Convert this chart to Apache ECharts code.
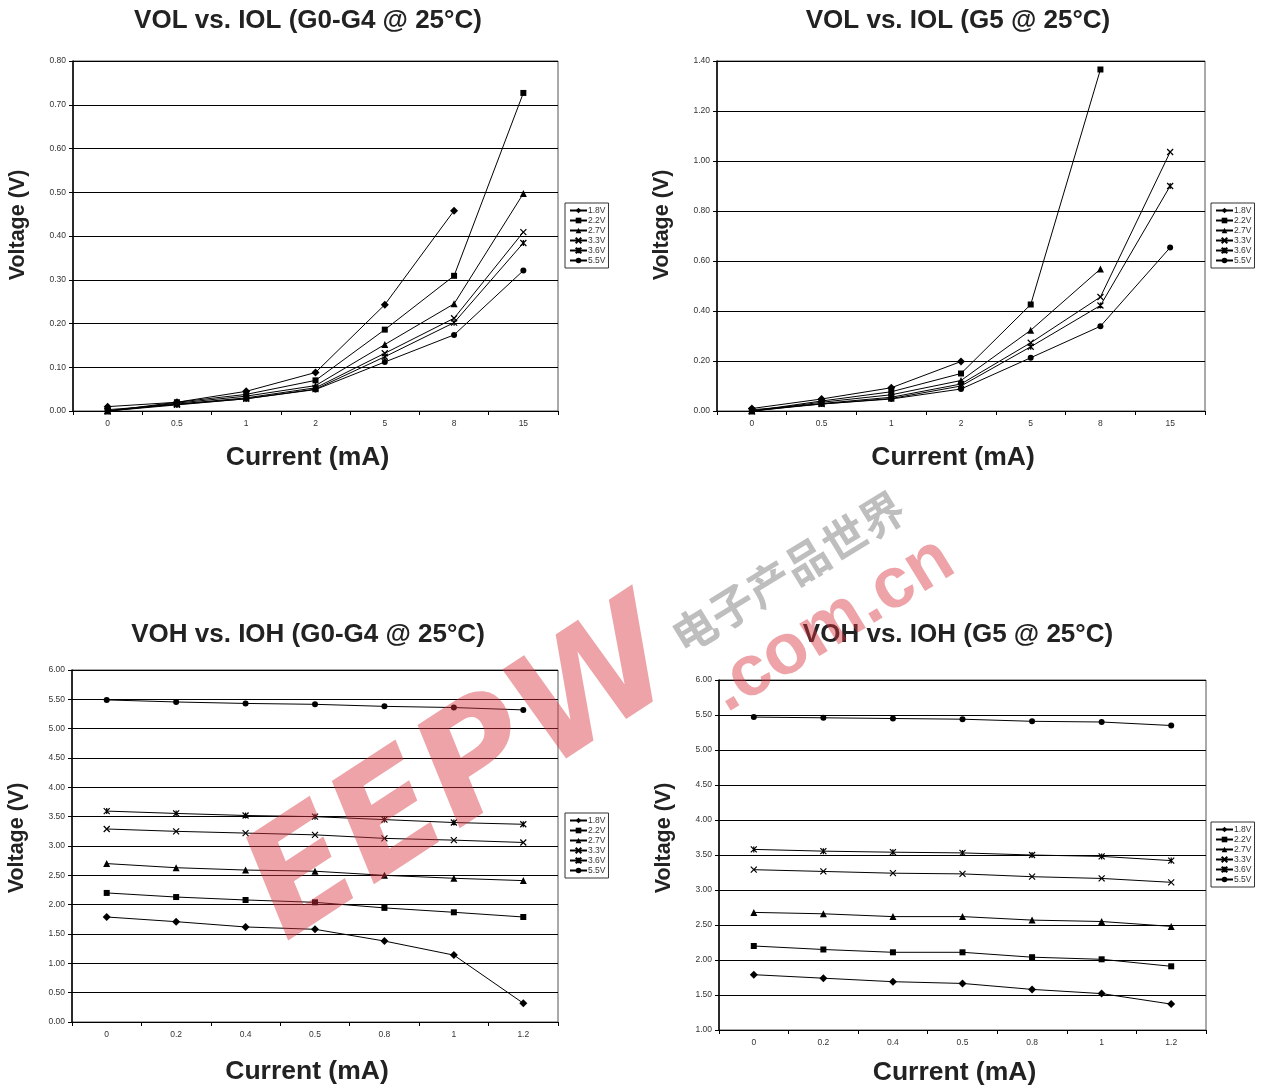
<!DOCTYPE html>
<html>
<head>
<meta charset="utf-8">
<title>VOL / VOH curves</title>
<script src="https://cdn.jsdelivr.net/npm/echarts@6/dist/echarts.min.js"></script>
<style>
  html, body { margin: 0; padding: 0; background: #fff; }
  #chart { width: 1267px; height: 1090px; }
</style>
</head>
<body>
<div id="chart"></div>
<script>
// series names (supply voltage)
const seriesNames = ['1.8V', '2.2V', '2.7V', '3.3V', '3.6V', '5.5V'];

// x categories (current, mA)
const iolLabels = ['0', '0.5', '1', '2', '5', '8', '15'];
const iohLabels = ['0', '0.2', '0.4', '0.5', '0.8', '1', '1.2'];

// VOL vs IOL, G0-G4
const volG04_18 = [0.010, 0.020, 0.045, 0.088, 0.243, 0.458];
const volG04_22 = [0.000, 0.020, 0.038, 0.070, 0.186, 0.309, 0.727];
const volG04_27 = [0.000, 0.018, 0.034, 0.058, 0.152, 0.245, 0.497];
const volG04_33 = [0.000, 0.016, 0.030, 0.053, 0.132, 0.212, 0.409];
const volG04_36 = [0.000, 0.014, 0.028, 0.050, 0.124, 0.202, 0.384];
const volG04_55 = [0.003, 0.015, 0.028, 0.049, 0.112, 0.174, 0.321];

// VOL vs IOL, G5
const volG5_18 = [0.010, 0.048, 0.093, 0.198];
const volG5_22 = [0.000, 0.040, 0.077, 0.150, 0.426, 1.366];
const volG5_27 = [0.000, 0.035, 0.065, 0.122, 0.323, 0.568];
const volG5_33 = [0.000, 0.030, 0.055, 0.108, 0.273, 0.456, 1.036];
const volG5_36 = [0.000, 0.028, 0.050, 0.100, 0.257, 0.422, 0.900];
const volG5_55 = [0.005, 0.028, 0.048, 0.088, 0.213, 0.339, 0.654];

// VOH vs IOH, G0-G4
const vohG04_18 = [1.79, 1.71, 1.62, 1.58, 1.38, 1.14, 0.32];
const vohG04_22 = [2.20, 2.13, 2.08, 2.04, 1.945, 1.87, 1.79];
const vohG04_27 = [2.70, 2.63, 2.59, 2.57, 2.50, 2.45, 2.41];
const vohG04_33 = [3.29, 3.25, 3.22, 3.19, 3.13, 3.10, 3.06];
const vohG04_36 = [3.595, 3.555, 3.52, 3.50, 3.45, 3.40, 3.37];
const vohG04_55 = [5.49, 5.455, 5.43, 5.415, 5.38, 5.36, 5.32];

// VOH vs IOH, G5
const vohG5_18 = [1.79, 1.74, 1.69, 1.665, 1.58, 1.52, 1.37];
const vohG5_22 = [2.20, 2.15, 2.11, 2.11, 2.04, 2.01, 1.91];
const vohG5_27 = [2.68, 2.66, 2.62, 2.62, 2.57, 2.55, 2.48];
const vohG5_33 = [3.29, 3.265, 3.24, 3.23, 3.19, 3.165, 3.11];
const vohG5_36 = [3.58, 3.555, 3.54, 3.53, 3.50, 3.48, 3.42];
const vohG5_55 = [5.47, 5.46, 5.45, 5.44, 5.41, 5.40, 5.35];

// marker for each supply voltage
const markers = [
    { symbol: 'diamond', size: 8, stroke: false },
    { symbol: 'rect', size: 6, stroke: false },
    { symbol: 'triangle', size: 7, stroke: false },
    { symbol: 'path://M0,0L10,10M10,0L0,10', size: 6, stroke: true },
    { symbol: 'path://M0,0L10,10M10,0L0,10M5,0L5,10', size: 6, stroke: true },
    { symbol: 'circle', size: 6, stroke: false }
];

const panels = [
    {
        title: 'VOL vs. IOL (G0-G4 @ 25\u00b0C)', cx: 308, ty: 21, yShift: 11, xGap: 33,
        grid: { left: 73, top: 61, width: 485, height: 350 },
        legend: { left: 565, top: 203 },
        labels: iolLabels, min: 0, max: 0.8, interval: 0.1,
        data: [volG04_18, volG04_22, volG04_27, volG04_33, volG04_36, volG04_55]
    },
    {
        title: 'VOL vs. IOL (G5 @ 25\u00b0C)', cx: 958, ty: 21, yShift: 11, xGap: 33,
        grid: { left: 717, top: 61, width: 488, height: 350 },
        legend: { left: 1211, top: 203 },
        labels: iolLabels, min: 0, max: 1.4, interval: 0.2,
        data: [volG5_18, volG5_22, volG5_27, volG5_33, volG5_36, volG5_55]
    },
    {
        title: 'VOH vs. IOH (G0-G4 @ 25\u00b0C)', cx: 308, ty: 635, yShift: 8, xGap: 36,
        grid: { left: 72, top: 670, width: 486, height: 352 },
        legend: { left: 565, top: 813 },
        labels: iohLabels, min: 0, max: 6, interval: 0.5,
        data: [vohG04_18, vohG04_22, vohG04_27, vohG04_33, vohG04_36, vohG04_55]
    },
    {
        title: 'VOH vs. IOH (G5 @ 25\u00b0C)', cx: 958, ty: 635, yShift: 17, xGap: 29,
        grid: { left: 719, top: 680, width: 487, height: 350 },
        legend: { left: 1211, top: 822 },
        labels: iohLabels, min: 1, max: 6, interval: 0.5,
        data: [vohG5_18, vohG5_22, vohG5_27, vohG5_33, vohG5_36, vohG5_55]
    }
];

const FONT = '"Liberation Sans", Arial, sans-serif';
const MARK_RED = 'rgba(214, 50, 60, 0.45)';

function buildOption() {
    const grid = [], xAxis = [], yAxis = [], series = [], legend = [], graphic = [];

    panels.forEach((p, i) => {
        grid.push(Object.assign({
            show: true, borderColor: '#555', borderWidth: 1, backgroundColor: '#fff'
        }, p.grid));

        xAxis.push({
            type: 'category', gridIndex: i, data: p.labels, boundaryGap: true,
            name: 'Current (mA)', nameLocation: 'middle', nameGap: p.xGap,
            nameTextStyle: {
                fontFamily: FONT, fontWeight: 'bold', fontSize: 26.5, color: '#222',
                padding: [0, 16, 0, 0]   // centre it a little left of the grid middle
            },
            axisLine: { lineStyle: { color: '#000', width: 1 } },
            axisTick: { show: true, length: 4, lineStyle: { color: '#000' } },
            axisLabel: { fontFamily: FONT, fontSize: 8.5, color: '#333', margin: 8 },
            splitLine: { show: false }
        });

        yAxis.push({
            type: 'value', gridIndex: i, min: p.min, max: p.max, interval: p.interval,
            name: 'Voltage (V)', nameLocation: 'middle', nameGap: 44,
            nameTextStyle: {
                fontFamily: FONT, fontWeight: 'bold', fontSize: 21.5, color: '#222',
                padding: [0, 0, 0, p.yShift * 2]   // lift the name above the grid middle
            },
            axisLine: { show: true, lineStyle: { color: '#000', width: 1.5 } },
            axisTick: { show: true, length: 4, lineStyle: { color: '#000' } },
            axisLabel: {
                fontFamily: FONT, fontSize: 8.5, color: '#333', margin: 7,
                formatter: v => v.toFixed(2)
            },
            splitLine: { show: true, lineStyle: { color: '#000', width: 1 } }
        });

        p.data.forEach((vals, k) => {
            const m = markers[k];
            series.push({
                name: seriesNames[k], type: 'line', xAxisIndex: i, yAxisIndex: i,
                data: vals, symbol: m.symbol, symbolSize: m.size,
                showAllSymbol: true, animation: false,
                lineStyle: { color: '#000', width: 1 },
                itemStyle: m.stroke
                    ? { color: '#000', borderColor: '#000', borderWidth: 1.2 }
                    : { color: '#000', borderWidth: 0 }
            });
        });

        legend.push({
            data: seriesNames, orient: 'vertical',
            left: p.legend.left, top: p.legend.top,
            padding: [3, 3, 3, 4], itemGap: 1, itemWidth: 17, itemHeight: 7,
            borderColor: '#333', borderWidth: 1, backgroundColor: '#fff',
            textStyle: {
                fontFamily: FONT, fontSize: 8.5, lineHeight: 9, color: '#333',
                padding: [0, 0, 0, -4]
            }
        });

        graphic.push({
            type: 'text', x: p.cx, y: p.ty, silent: true,
            style: {
                text: p.title, fontFamily: FONT, fontWeight: 'bold', fontSize: 26,
                fill: '#222', align: 'center', verticalAlign: 'middle'
            }
        });
    });

    // EEPW watermark
    graphic.push(
        {
            type: 'text', x: 465, y: 778, rotation: 0.58, z: 100, silent: true,
            style: {
                text: 'EEPW', fontFamily: '"DejaVu Sans", sans-serif', fontWeight: 'bold',
                fontStyle: 'italic', fontSize: 150, fill: MARK_RED,
                align: 'center', verticalAlign: 'middle'
            }
        },
        {
            type: 'text', x: 832, y: 625, rotation: 0.55, z: 100, silent: true,
            style: {
                text: '.com.cn', fontFamily: FONT, fontWeight: 'bold',
                fontSize: 72, fill: MARK_RED, align: 'center', verticalAlign: 'middle'
            }
        },
        {
            type: 'text', x: 788, y: 572, rotation: 0.55, z: 100, silent: true,
            style: {
                text: '电子产品世界', fontFamily: '"Noto Sans CJK SC", sans-serif', fontWeight: 'bold',
                fontSize: 44, fill: 'rgba(110, 110, 110, 0.45)',
                align: 'center', verticalAlign: 'middle'
            }
        }
    );

    return { animation: false, backgroundColor: '#fff', grid, xAxis, yAxis, series, legend, graphic };
}

const chart = echarts.init(document.getElementById('chart'), null, { renderer: 'canvas' });
chart.setOption(buildOption());
window.addEventListener('resize', () => chart.resize());
</script>
</body>
</html>
